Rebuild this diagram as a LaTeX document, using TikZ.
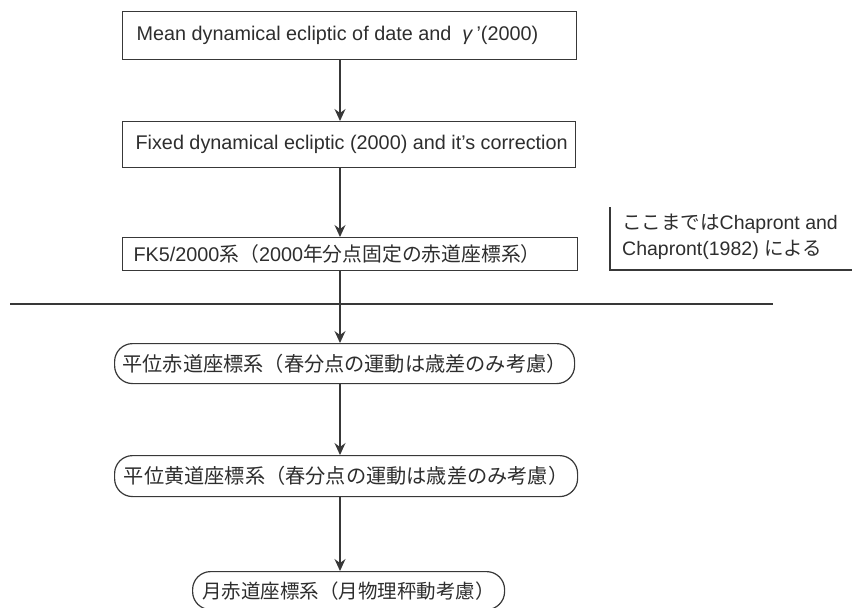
\documentclass[tikz,border=0pt]{standalone}
\usepackage{fontspec}
\setmainfont{Liberation Sans}
\newfontfamily\jp{Noto Sans CJK JP}
\usetikzlibrary{arrows.meta}
\definecolor{ink}{HTML}{383838}
\definecolor{txt}{HTML}{2E2E2E}
\begin{document}
\begin{tikzpicture}[x=1pt,y=-1pt,
  every node/.style={text=txt},
  sqbox/.style={draw=ink,line width=1.2pt,anchor=north west,inner ysep=0pt},
  rbox/.style={draw=ink,line width=1.2pt,anchor=north west,rounded corners=18pt,inner xsep=0pt,inner ysep=0pt,align=center},
  arr/.style={draw=ink,line width=1.2pt,-{Stealth[length=12pt,width=11pt,inset=4pt]}},
  plain/.style={draw=ink,line width=1.2pt}]
\useasboundingbox (0,0) rectangle (852,608);
\fill[white] (0,0) rectangle (852,608);
\coordinate (cx) at (340,0);
% boxes
\node[sqbox,inner xsep=14pt,minimum height=48pt,font=\fontsize{19.8}{22}\selectfont] (b1) at (122,11)
  {\makebox[426pt][l]{Mean dynamical ecliptic of date and \ \textit{γ}\,'(2000)}};
\node[sqbox,inner xsep=13pt,minimum height=46pt,font=\fontsize{19.8}{22}\selectfont] (b2) at (122,121)
  {\makebox[427pt][l]{Fixed dynamical ecliptic (2000) and it's correction}};
\node[sqbox,inner xsep=11pt,minimum height=33pt,font=\fontsize{19.8}{22}\selectfont] (b3) at (122,237)
  {\makebox[433pt][l]{FK5/2000{\jp 系（}2000{\jp 年分点固定の赤道座標系）}}};
\node[rbox,minimum width=460pt,minimum height=40pt,font=\jp\fontsize{20.2}{22}\selectfont] (b4) at (114,343)
  {平位赤道座標系（春分点の運動は歳差のみ考慮）};
\node[rbox,minimum width=463pt,minimum height=41pt,font=\jp\fontsize{20.2}{22}\selectfont] (b5) at (114,455)
  {平位黄道座標系（春分点の運動は歳差のみ考慮）};
\node[rbox,minimum width=312pt,minimum height=38pt,font=\jp\fontsize{19.5}{22}\selectfont] (b6) at (192,571)
  {月赤道座標系（月物理秤動考慮）};
% side note
\node[anchor=north west,align=left,inner sep=0pt,font=\fontsize{19.5}{26}\selectfont] (note) at (622,214)
  {{\jp ここまでは}Chapront and\\Chapront(1982) {\jp による}};
\coordinate (nt) at (610,207);
\coordinate (nb) at (610,270);
\coordinate (ne) at (852,270);
\draw[plain] (nt) -- (nb) -- (ne);
% separator
\coordinate (sl) at (10,304);
\coordinate (sr) at (773,304);
\draw[draw=ink,line width=2pt] (sl) -- (sr);
% arrows
\draw[arr] (b1.south -| cx) -- (b2.north -| cx);
\draw[arr] (b2.south -| cx) -- (b3.north -| cx);
\draw[arr] (b3.south -| cx) -- (b4.north -| cx);
\draw[arr] (b4.south -| cx) -- (b5.north -| cx);
\draw[arr] (b5.south -| cx) -- (b6.north -| cx);
\end{tikzpicture}
\end{document}
